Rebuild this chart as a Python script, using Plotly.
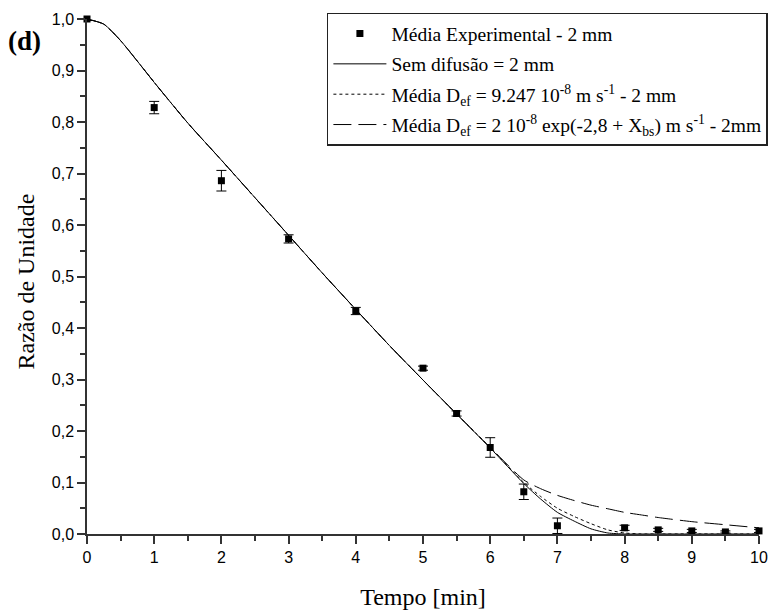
import plotly.graph_objects as go

# Experimental moisture ratio (mean) with error bars
t_exp = [0, 1, 2, 3, 4, 5, 5.5, 6, 6.5, 7, 8, 8.5, 9, 9.5, 10]
mr_exp = [1.0, 0.828, 0.686, 0.573, 0.433, 0.322, 0.234, 0.168, 0.082, 0.016, 0.012, 0.008, 0.006, 0.004, 0.006]
mr_err = [0.003, 0.012, 0.02, 0.008, 0.007, 0.004, 0.005, 0.019, 0.015, 0.015, 0.005, 0.003, 0.003, 0.002, 0.003]

# Model curves
t_mod = [0, 0.25, 0.5, 0.75, 1, 1.5, 2, 2.5, 3, 3.5, 4, 4.5, 5, 5.5, 6, 6.5, 6.75, 7, 7.25, 7.5, 7.75, 8, 8.25, 8.5, 9, 9.5, 10]
mr_sem_dif = [1.0, 0.99, 0.958, 0.918, 0.877, 0.798, 0.726, 0.653, 0.58, 0.507, 0.436, 0.366, 0.299, 0.233, 0.167, 0.098, 0.068, 0.042, 0.025, 0.01, 0.002, 0.0, 0.0, 0.0, 0.0, 0.0, 0.0]
mr_def_const = [1.0, 0.99, 0.958, 0.918, 0.877, 0.798, 0.726, 0.653, 0.58, 0.507, 0.436, 0.366, 0.299, 0.233, 0.168, 0.1, 0.073, 0.05, 0.034, 0.02, 0.008, 0.002, 0.0, 0.0, 0.0, 0.0, 0.0]
mr_def_var = [1.0, 0.99, 0.958, 0.918, 0.877, 0.798, 0.726, 0.653, 0.58, 0.507, 0.436, 0.366, 0.299, 0.233, 0.168, 0.105, 0.088, 0.075, 0.065, 0.056, 0.049, 0.042, 0.037, 0.032, 0.024, 0.018, 0.012]

serif = "Liberation Serif, Times New Roman, serif"
sans = "Liberation Sans, Arial, sans-serif"

fig = go.Figure()

fig.add_trace(go.Scatter(
    x=t_exp, y=mr_exp, mode="markers", name="Média Experimental - 2 mm",
    legendgroup="g1",
    marker=dict(symbol="square", size=7, color="black"),
    error_y=dict(type="data", array=mr_err, visible=True, color="black", thickness=1, width=5),
    cliponaxis=False,
))
fig.add_trace(go.Scatter(
    x=t_mod, y=mr_sem_dif, mode="lines", name="Sem difusão = 2 mm",
    legendgroup="g2",
    line=dict(color="black", width=1, shape="spline", smoothing=0.6),
    cliponaxis=False,
))
fig.add_trace(go.Scatter(
    x=t_mod, y=mr_def_const, mode="lines",
    name="Média D<sub>ef</sub> = 9.247 10<sup>-8</sup> m s<sup>-1</sup> - 2 mm",
    legendgroup="g3",
    line=dict(color="black", width=1, dash="dot", shape="spline", smoothing=0.6),
    cliponaxis=False,
))
fig.add_trace(go.Scatter(
    x=t_mod, y=mr_def_var, mode="lines",
    name="Média D<sub>ef</sub> = 2 10<sup>-8</sup> exp(-2,8 + X<sub>bs</sub>) m s<sup>-1</sup> - 2mm",
    legendgroup="g4",
    line=dict(color="black", width=1, dash="18px,7px", shape="spline", smoothing=0.6),
    cliponaxis=False,
))

axis_common = dict(
    showline=True, linecolor="#333", linewidth=1.5, mirror=False,
    ticks="outside", ticklen=8, tickwidth=1.5, tickcolor="#333",
    showgrid=False, zeroline=False,
    tickfont=dict(family=sans, size=16, color="black"),
)

fig.update_xaxes(
    range=[0, 10], tick0=0, dtick=1,
    minor=dict(ticks="outside", ticklen=5, tickwidth=1.5, tickcolor="#333", dtick=0.5, showgrid=False),
    title=dict(text="Tempo [min]", font=dict(family=serif, size=24, color="black"), standoff=24),
    **axis_common,
)
fig.update_yaxes(
    range=[0, 1.0], tick0=0, dtick=0.1, tickformat=".1f",
    minor=dict(ticks="outside", ticklen=5, tickwidth=1.5, tickcolor="#333", dtick=0.05, showgrid=False),
    **axis_common,
)

# y-axis title placed as a rotated annotation
fig.add_annotation(
    text="Razão de Unidade", xref="paper", yref="paper", x=-0.091, y=0.49,
    xanchor="center", yanchor="middle", textangle=-90, showarrow=False,
    font=dict(family=serif, size=24, color="black"),
)

fig.add_annotation(
    text="<b>(d)</b>", xref="paper", yref="paper", x=-0.12, y=0.957,
    xanchor="left", yanchor="middle", showarrow=False,
    font=dict(family=serif, size=27, color="black"),
)

fig.update_layout(
    width=774, height=610,
    margin=dict(l=87, r=15, t=19, b=76, autoexpand=False),
    paper_bgcolor="white", plot_bgcolor="white",
    separators=",.",
    showlegend=True,
    legend=dict(
        x=0.357, y=1.012, xanchor="left", yanchor="top",
        bgcolor="white", bordercolor="#222", borderwidth=1.5,
        font=dict(family=serif, size=19.5, color="black"),
        tracegroupgap=2, itemwidth=53,
    ),
)

fig.write_html("out.html")
